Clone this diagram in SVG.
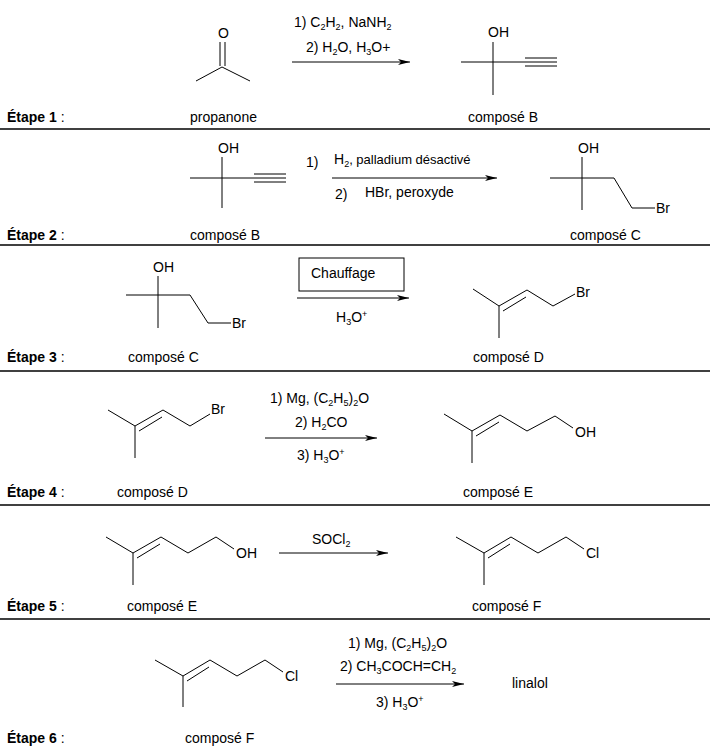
<svg xmlns="http://www.w3.org/2000/svg" width="710" height="750" viewBox="0 0 710 750">
<defs>
<marker id="ah" markerWidth="12" markerHeight="6" refX="12" refY="3" orient="auto" markerUnits="userSpaceOnUse"><path d="M0,0 L12,3 L0,6 L3,3 Z" fill="#000"/></marker>
</defs>
<style>
text{font-family:"Liberation Sans",Arial,sans-serif;font-size:14px;fill:#000}
.s{font-size:9px}
.b{font-weight:bold}
.bond{stroke:#000;stroke-width:1;fill:none}
.sep{stroke:#000;stroke-width:1.5}
.arr{stroke:#000;stroke-width:1;marker-end:url(#ah)}
</style>
<rect width="710" height="750" fill="#fff"/>
<g id="separators">
<line class="sep" x1="0" y1="129" x2="710" y2="129"/>
<line class="sep" x1="0" y1="245" x2="710" y2="245"/>
<line class="sep" x1="0" y1="371" x2="710" y2="371"/>
<line class="sep" x1="0" y1="505" x2="710" y2="505"/>
<line class="sep" x1="0" y1="619" x2="710" y2="619"/>
</g>
<g id="steps">
<text class="b" x="7" y="122">Étape 1<tspan font-weight="normal"> :</tspan></text>
<text class="b" x="7" y="240">Étape 2<tspan font-weight="normal"> :</tspan></text>
<text class="b" x="7" y="362">Étape 3<tspan font-weight="normal"> :</tspan></text>
<text class="b" x="7" y="497">Étape 4<tspan font-weight="normal"> :</tspan></text>
<text class="b" x="7" y="611">Étape 5<tspan font-weight="normal"> :</tspan></text>
<text class="b" x="7" y="743">Étape 6<tspan font-weight="normal"> :</tspan></text>
</g>
<g id="propanone">
<text x="218" y="38">O</text>
<path class="bond" d="M220,42 V66 M225,42 V66 M196,81 L222,67 L250,81"/>
<text x="190" y="122">propanone</text>
</g>
<g id="compB1">
<text x="488" y="37">OH</text>
<path class="bond" d="M493,42 V95 M461,62 H525 M525,58 H557 M525,62 H557 M525,66 H557"/>
<text x="468" y="122">composé B</text>
</g>
<g id="compB2">
<text x="218" y="153">OH</text>
<path class="bond" d="M222,157 V208 M190,178 H254 M254,174 H286 M254,178 H286 M254,182 H286"/>
<text x="190" y="240">composé B</text>
</g>
<g id="compC2">
<text x="578" y="153">OH</text>
<path class="bond" d="M582,157 V210 M550,178 H614 L632,208 H655"/>
<text x="656" y="213" font-size="12">Br</text>
<text x="570" y="240">composé C</text>
</g>
<g id="compC3">
<text x="153" y="272">OH</text>
<path class="bond" d="M158,276 V328 M126,295 H190 L208,323 H231"/>
<text x="232" y="328" font-size="13">Br</text>
<text x="128" y="362">composé C</text>
</g>
<g id="compD3">
<path class="bond" d="M473,289 L499,306 L527,290 L553,306 L575,294 M499,306 V338 M503,311 L526,297"/>
<text x="576" y="297" font-size="13">Br</text>
<text x="473" y="362">composé D</text>
</g>
<g id="compD4">
<path class="bond" d="M108,410 L135,426 L163,410 L190,426 L210,414 M135,426 V458 M139,431 L162,417"/>
<text x="211" y="414" font-size="13">Br</text>
<text x="117" y="497">composé D</text>
</g>
<g id="compE4">
<path class="bond" d="M444,414 L472,431 L500,415 L527,431 L555,416 L573,428 M472,431 V463 M476,436 L499,422"/>
<text x="575" y="437" font-size="13">OH</text>
<text x="463" y="497">composé E</text>
</g>
<g id="compE5">
<path class="bond" d="M106,537 L133,553 L161,537 L188,553 L216,537 L234,549 M133,553 V585 M137,558 L160,544"/>
<text x="236" y="558" font-size="13">OH</text>
<text x="127" y="611">composé E</text>
</g>
<g id="compF5">
<path class="bond" d="M456,537 L484,553 L511,537 L538,553 L566,537 L584,549 M484,553 V585 M488,558 L510,544"/>
<text x="586" y="558" font-size="13">Cl</text>
<text x="472" y="611">composé F</text>
</g>
<g id="compF6">
<path class="bond" d="M155,660 L183,676 L210,660 L237,676 L265,660 L283,672 M183,676 V707 M187,681 L209,667"/>
<text x="285" y="681" font-size="13">Cl</text>
<text x="185" y="743">composé F</text>
</g>
<g id="linalol"><text x="512" y="688" font-size="13">linalol</text></g>
<g id="connectors">
<line class="arr" x1="292" y1="62" x2="410" y2="62"/>
<line class="arr" x1="332" y1="178" x2="497" y2="178"/>
<line class="arr" x1="297" y1="298" x2="409" y2="298"/>
<line class="arr" x1="265" y1="438" x2="377" y2="438"/>
<line class="arr" x1="279" y1="553" x2="388" y2="553"/>
<line class="arr" x1="336" y1="684" x2="464" y2="684"/>
</g>
<g id="reagents">
<text x="294" y="27">1) C<tspan class="s" dy="3">2</tspan><tspan dy="-3">H</tspan><tspan class="s" dy="3">2</tspan><tspan dy="-3">, NaNH</tspan><tspan class="s" dy="3">2</tspan></text>
<text x="306" y="52">2) H<tspan class="s" dy="3">2</tspan><tspan dy="-3">O, H</tspan><tspan class="s" dy="3">3</tspan><tspan dy="-3">O+</tspan></text>
<text x="306" y="167">1)</text>
<text x="334" y="164">H<tspan class="s" dy="3">2</tspan><tspan dy="-3" font-size="13">, palladium désactivé</tspan></text>
<text x="335" y="199">2)</text>
<text x="365" y="197" font-size="13">HBr, peroxyde</text>
<rect x="299" y="258" width="105" height="33" fill="none" stroke="#000"/>
<text x="311" y="278" font-size="13">Chauffage</text>
<text x="336" y="322">H<tspan class="s" dy="3">3</tspan><tspan dy="-3">O</tspan><tspan class="s" dy="-5">+</tspan></text>
<text x="270" y="403" font-size="13">1) Mg, (C<tspan class="s" dy="3">2</tspan><tspan dy="-3">H</tspan><tspan class="s" dy="3">5</tspan><tspan dy="-3">)</tspan><tspan class="s" dy="3">2</tspan><tspan dy="-3">O</tspan></text>
<text x="295" y="427" font-size="13">2) H<tspan class="s" dy="3">2</tspan><tspan dy="-3">CO</tspan></text>
<text x="297" y="460" font-size="13">3) H<tspan class="s" dy="3">3</tspan><tspan dy="-3">O</tspan><tspan class="s" dy="-5">+</tspan></text>
<text x="312" y="544" font-size="13">SOCl<tspan class="s" dy="3">2</tspan></text>
<text x="348" y="648" font-size="13">1) Mg, (C<tspan class="s" dy="3">2</tspan><tspan dy="-3">H</tspan><tspan class="s" dy="3">5</tspan><tspan dy="-3">)</tspan><tspan class="s" dy="3">2</tspan><tspan dy="-3">O</tspan></text>
<text x="340" y="671" font-size="13">2) CH<tspan class="s" dy="3">3</tspan><tspan dy="-3">COCH=CH</tspan><tspan class="s" dy="3">2</tspan></text>
<text x="376" y="707" font-size="13">3) H<tspan class="s" dy="3">3</tspan><tspan dy="-3">O</tspan><tspan class="s" dy="-5">+</tspan></text>
</g>
</svg>
